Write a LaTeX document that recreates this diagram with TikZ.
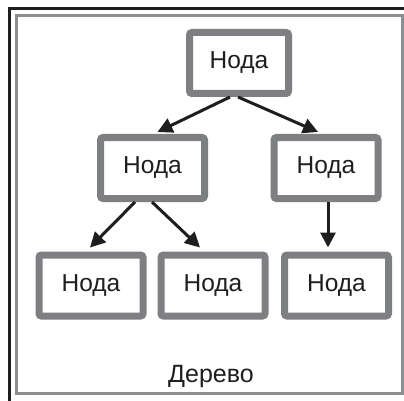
\documentclass[tikz,border=0pt]{standalone}
\usepackage{fontspec}
\setmainfont{Liberation Sans}
\usetikzlibrary{arrows.meta}
\definecolor{boxgray}{HTML}{7E7F82}
\definecolor{framegray}{HTML}{8E8F91}
\definecolor{ink}{HTML}{1E1E1E}
\tikzset{
  treenode/.style={draw=boxgray, line width=7pt, rounded corners=2.5pt, fill=white,
    minimum width=104pt, minimum height=61pt, inner sep=0pt, font=\fontsize{24.5}{28}\selectfont, text=ink},
  link/.style={draw=ink, line width=3pt, -{Triangle[length=15pt,width=15pt]}},
}
\begin{document}
\begin{tikzpicture}[x=1pt,y=-1pt]
\useasboundingbox (0,0) rectangle (404,401);
\fill[white] (0,0) rectangle (404,401);
% outer frames
\draw[ink, line width=3pt] (9.5,401) -- (9.5,8.5) -- (404,8.5);
\node[draw=framegray, line width=3pt, minimum width=385.5pt, minimum height=378pt, inner sep=0pt,
      anchor=north west, outer sep=0pt] (frame) at (16.5,15.5) {};
\node[font=\fontsize{25}{29}\selectfont, text=ink] (label) at (211,376) {Дерево};
% nodes
\node[treenode, minimum width=99pt] (root) at (239,63) {Нода};
\node[treenode] (ml) at (152.5,168) {Нода};
\node[treenode] (mr) at (326,168) {Нода};
\node[treenode] (bl) at (91,285.5) {Нода};
\node[treenode] (bm) at (213,285.5) {Нода};
\node[treenode] (br) at (336.5,285.5) {Нода};
% connectors
\draw[link] ([xshift=-9pt]root.south) -- ([xshift=5pt,yshift=2pt]ml.north);
\draw[link] ([xshift=-1pt]root.south) -- ([xshift=-8pt,yshift=2pt]mr.north);
\draw[link] ([xshift=-17.5pt]ml.south) -- ([xshift=-1pt,yshift=4pt]bl.north);
\draw[link] ([xshift=-0.5pt]ml.south) -- ([xshift=-13pt,yshift=4pt]bm.north);
\draw[link] ([xshift=2pt]mr.south) -- ([xshift=-8.5pt,yshift=4pt]br.north);
\end{tikzpicture}
\end{document}
